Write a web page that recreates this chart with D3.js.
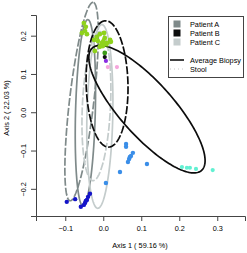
<!DOCTYPE html>
<html>
<head>
<meta charset="utf-8">
<script src="https://cdn.jsdelivr.net/npm/d3@7"></script>
<style>
  body { margin: 0; background: #fff; }
  text { font-family: "Liberation Sans", Arial, sans-serif; }
</style>
</head>
<body>
<div id="chart"></div>
<script>
// tick values
var xTicks = [-0.1, 0, 0.1, 0.2, 0.3];
var yTicks = [-0.2, -0.1, 0, 0.1, 0.2];

// sample points [axis1, axis2]
var greenPts = [[-0.051, 0.233], [-0.046, 0.223], [-0.048, 0.212], [-0.043, 0.204], [-0.056, 0.207],
  [-0.024, 0.189], [-0.017, 0.197], [-0.009, 0.204], [0.002, 0.207], [0.004, 0.194], [-0.003, 0.181],
  [-0.009, 0.171], [0.010, 0.181], [0.018, 0.189], [0.020, 0.184], [-0.022, 0.160], [-0.001, 0.173],
  [-0.014, 0.186]];
var greenTri = [[0.000, 0.180]];
var darkGreenPts = [[0.004, 0.155]];
var blackPts = [[0.004, 0.144]];
var purplePts = [[0.007, 0.134]];
var pinkPts = [[0.012, 0.118], [0.036, 0.118]];
var bluePts = [[0.060, -0.083], [0.060, -0.090], [0.078, -0.106], [0.073, -0.114], [0.068, -0.122],
  [0.065, -0.130], [0.070, -0.117], [0.115, -0.135], [0.044, -0.156], [0.007, -0.185]];
var aquaPts = [[0.207, -0.143], [0.220, -0.145], [0.228, -0.145], [0.244, -0.148], [0.288, -0.151]];
var darkBluePts = [[-0.096, -0.234], [-0.074, -0.227], [-0.059, -0.247], [-0.048, -0.237], [-0.043, -0.229],
  [-0.040, -0.221], [-0.035, -0.213], [-0.046, -0.232], [-0.051, -0.242]];

// confidence ellipses: centre, semi axes, rotation (deg)
var ellipses = [
  {patient: "A", kind: "stool",  cx: -0.057, cy: 0.028,  a: 0.261, b: 0.032, angle: 83.3},
  {patient: "A", kind: "biopsy", cx: -0.047, cy: -0.001, a: 0.243, b: 0.026, angle: 88.5},
  {patient: "C", kind: "stool",  cx: -0.018, cy: 0.016,  a: 0.195, b: 0.037, angle: 87.3},
  {patient: "C", kind: "biopsy", cx: -0.009, cy: -0.011, a: 0.240, b: 0.034, angle: 88.7},
  {patient: "B", kind: "stool",  cx: 0.010,  cy: 0.074,  a: 0.165, b: 0.055, angle: 91.5},
  {patient: "B", kind: "biopsy", cx: 0.115,  cy: 0.008,  a: 0.215, b: 0.070, angle: -48}
];

var patients = ["Patient A", "Patient B", "Patient C"];
var lineTypes = ["Average Biopsy", "Stool"];

var patientColor = {A: "#7f8a8a", B: "#0c0c0c", C: "#c4cccc"};

var svg = d3.select("#chart").append("svg")
  .attr("width", 247)
  .attr("height", 253);

var x = d3.scaleLinear().domain([-0.177, 0.373]).range([36, 245]);
var y = d3.scaleLinear().domain([-0.271, 0.254]).range([216, 15]);

// ellipses
var line = d3.line().x(d => x(d[0])).y(d => y(d[1]));
function ellipsePts(e) {
  var t = e.angle * Math.PI / 180, pts = [];
  for (var i = 0; i <= 180; i++) {
    var p = i / 180 * 2 * Math.PI;
    pts.push([e.cx + e.a * Math.cos(t) * Math.cos(p) - e.b * Math.sin(t) * Math.sin(p),
              e.cy + e.a * Math.sin(t) * Math.cos(p) + e.b * Math.cos(t) * Math.sin(p)]);
  }
  return pts;
}
svg.selectAll("path.ell")
  .data(ellipses)
  .enter().append("path")
  .attr("class", "ell")
  .attr("d", d => line(ellipsePts(d)))
  .attr("fill", "none")
  .attr("stroke", d => patientColor[d.patient])
  .attr("stroke-width", 1.7)
  .attr("stroke-dasharray", d => d.kind == "stool" ? "8,2" : null);

// points
function dots(data, color, r) {
  svg.append("g").selectAll("circle")
    .data(data)
    .enter().append("circle")
    .attr("cx", d => x(d[0]))
    .attr("cy", d => y(d[1]))
    .attr("r", r)
    .attr("fill", color);
}
dots(greenPts, "#8fd21c", 2.4);
dots(darkGreenPts, "#3c9a18", 2.4);
dots(blackPts, "#111", 2.1);
dots(purplePts, "#8a2be2", 2.1);
dots(pinkPts, "#f5a6dc", 2.1);
dots(bluePts, "#3a8ee8", 2.2);
dots(aquaPts, "#62f0d2", 2.1);
dots(darkBluePts, "#1414c8", 2.2);

svg.append("g").selectAll("path")
  .data(greenTri)
  .enter().append("path")
  .attr("d", d3.symbol().type(d3.symbolTriangle).size(55))
  .attr("transform", d => `translate(${x(d[0])},${y(d[1])})`)
  .attr("fill", "#8fd21c");

// axes
var xAxis = svg.append("g")
  .attr("transform", "translate(0,216)")
  .call(d3.axisBottom(x).tickValues(xTicks).tickFormat(d3.format(".1f")).tickSizeOuter(0).tickSize(5));
xAxis.selectAll("text").attr("y", 10).attr("font-size", "7.3px").attr("fill", "#000");

var yAxis = svg.append("g")
  .attr("transform", "translate(36,0)")
  .call(d3.axisLeft(y).tickValues(yTicks).tickFormat(d3.format(".1f")).tickSizeOuter(0).tickSize(5));
yAxis.selectAll("text")
  .attr("x", 0).attr("dy", 0)
  .attr("text-anchor", "middle")
  .attr("transform", "translate(-10.5,0) rotate(-90)")
  .attr("font-size", "7.3px").attr("fill", "#000");

svg.selectAll(".domain, .tick line").attr("stroke", "#444");

svg.append("text")
  .attr("x", 140).attr("y", 248)
  .attr("text-anchor", "middle")
  .attr("font-size", "7.3px")
  .attr("fill", "#000")
  .text("Axis 1 ( 59.16 %)");

svg.append("text")
  .attr("transform", "translate(9,108) rotate(-90)")
  .attr("text-anchor", "middle")
  .attr("font-size", "7.3px")
  .attr("fill", "#000")
  .text("Axis 2 ( 22.03 %)");

// legend
var lg = svg.append("g");
lg.append("rect")
  .attr("x", 168.5).attr("y", 16.5).attr("width", 75).attr("height", 61)
  .attr("fill", "#fff").attr("stroke", "#444").attr("stroke-width", 1);

lg.selectAll("rect.sw")
  .data(patients)
  .enter().append("rect")
  .attr("class", "sw")
  .attr("x", 173.5).attr("y", (d, i) => 20.5 + i * 9)
  .attr("width", 7).attr("height", 7)
  .attr("fill", (d, i) => patientColor["ABC"[i]]);

lg.selectAll("text.pt")
  .data(patients)
  .enter().append("text")
  .attr("class", "pt")
  .attr("x", 190).attr("y", (d, i) => 26.8 + i * 9)
  .attr("font-size", "7.3px").attr("fill", "#000")
  .text(d => d);

lg.selectAll("line.lt")
  .data(lineTypes)
  .enter().append("line")
  .attr("class", "lt")
  .attr("x1", 170).attr("x2", 184)
  .attr("y1", (d, i) => 60 + i * 9).attr("y2", (d, i) => 60 + i * 9)
  .attr("stroke", (d, i) => i == 0 ? "#111" : "#c8c8c8")
  .attr("stroke-width", (d, i) => i == 0 ? 1.6 : 1)
  .attr("stroke-dasharray", (d, i) => i == 0 ? null : "1,3");

lg.selectAll("text.lt")
  .data(lineTypes)
  .enter().append("text")
  .attr("class", "lt")
  .attr("x", 190).attr("y", (d, i) => 62.5 + i * 9)
  .attr("font-size", "7.3px").attr("fill", "#000")
  .text(d => d);
</script>
</body>
</html>
